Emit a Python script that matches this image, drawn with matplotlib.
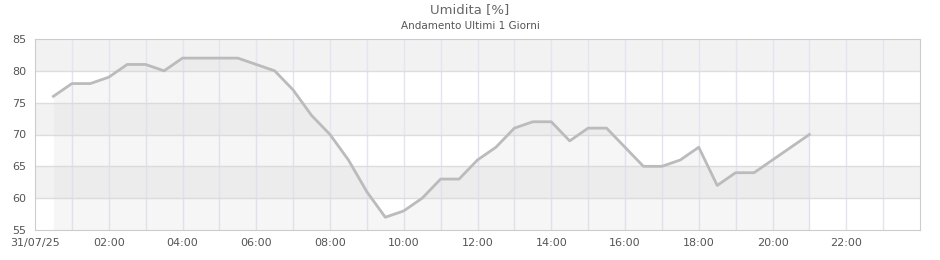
import numpy as np
import matplotlib
matplotlib.use('Agg')
import matplotlib.pyplot as plt

# ore (dalle 00:00 del 31/07/25) e umidita
ore = [0.5, 1.0, 1.5, 2.0, 2.5, 3.0, 3.5, 4.0, 4.5, 5.0, 5.5, 6.0, 6.5, 7.0,
       7.5, 8.0, 8.5, 9.0, 9.5, 10.0, 10.5, 11.0, 11.5, 12.0, 12.5, 13.0,
       13.5, 14.0, 14.5, 15.0, 15.5, 16.0, 16.5, 17.0, 17.5, 18.0, 18.5,
       19.0, 19.5, 20.0, 20.5, 21.0]
umidita = [76, 78, 78, 79, 81, 81, 80, 82, 82, 82, 82, 81, 80, 77,
           73, 70, 66, 61, 57, 58, 60, 63, 63, 66, 68, 71,
           72, 72, 69, 71, 71, 68, 65, 65, 66, 68, 62,
           64, 64, 66, 68, 70]
tick_ore = [0, 2, 4, 6, 8, 10, 12, 14, 16, 18, 20, 22]
tick_label = ['31/07/25', '02:00', '04:00', '06:00', '08:00', '10:00',
              '12:00', '14:00', '16:00', '18:00', '20:00', '22:00']
y_ticks = [55, 60, 65, 70, 75, 80, 85]

fig = plt.figure(figsize=(9.4, 2.6), dpi=100)
ax = fig.add_axes([35/940, 30/260, 885/940, 191/260])

# bande orizzontali alternate
for i in range(len(y_ticks) - 1):
    if i % 2 == 1:
        ax.axhspan(y_ticks[i], y_ticks[i+1], color='#f2f2f2', lw=0, zorder=0)

for h in range(1, 24):
    ax.axvline(h, color='#e4e4f4', lw=1, zorder=1)
for y in y_ticks[1:-1]:
    ax.axhline(y, color='#dddddd', lw=1, zorder=1)

ax.fill_between(ore, umidita, 55, color='#d8d8d8', alpha=0.22, lw=0, zorder=2)
ax.plot(ore, umidita, color='#bbbbbb', lw=2, zorder=3)

ax.set_xlim(0, 24)
ax.set_ylim(55, 85)
ax.set_xticks(tick_ore)
ax.set_xticklabels(tick_label)
ax.set_yticks(y_ticks)
ax.tick_params(length=0, labelsize=8, colors='#555555', pad=6)
for s in ax.spines.values():
    s.set_color('#cccccc')

fig.text(0.5, 1 - 10/260, 'Umidita [%]', ha='center', va='center', fontsize=9.5, color='#666666')
fig.text(0.5, 1 - 26/260, 'Andamento Ultimi 1 Giorni', ha='center', va='center', fontsize=7.5, color='#555555')

fig.savefig('out.png', dpi=100)
